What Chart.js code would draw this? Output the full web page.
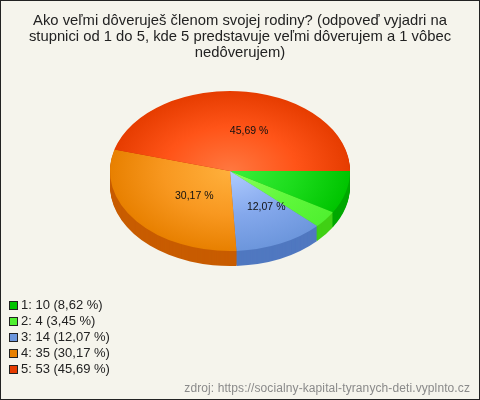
<!DOCTYPE html>
<html lang="sk">
<head>
<meta charset="utf-8">
<title>Dôvera členom rodiny</title>
<script src="https://cdn.jsdelivr.net/npm/chart.js@4"></script>
<style>
    body { margin: 0; background: #f5f4ec; font-family: "Liberation Sans", Arial, sans-serif; }
    #wrap { position: relative; width: 480px; height: 400px; overflow: hidden; }
    canvas { display: block; }
    #frame { position: absolute; inset: 0; border: 1px solid #222; pointer-events: none; }
    #legend { position: absolute; left: 8px; top: 297px; margin: 0; padding: 0; list-style: none; font-size: 13px; line-height: 16px; color: #222; }
    #legend li { height: 16px; white-space: nowrap; display: flex; align-items: center; }
    #legend i { display: inline-block; box-sizing: border-box; width: 9px; height: 9px; margin: 0 3px 0 1px; border: 1px solid #222; }
    #source { position: absolute; right: 10px; top: 381px; font-size: 12px; letter-spacing: 0.1px; color: #8a8a8a; white-space: nowrap; }
</style>
</head>
<body>
<div id="wrap">
    <canvas id="chart" width="480" height="400"></canvas>
    <ul id="legend"></ul>
    <div id="source"></div>
    <div id="frame"></div>
</div>
<script>
// Údaje z grafu
const titleLines = [
    'Ako veľmi dôveruješ členom svojej rodiny? (odpoveď vyjadri na',
    'stupnici od 1 do 5, kde 5 predstavuje veľmi dôverujem a 1 vôbec',
    'nedôverujem)'
];
const categories = ['1', '2', '3', '4', '5'];
const counts = [10, 4, 14, 35, 53];
const percents = ['8,62', '3,45', '12,07', '30,17', '45,69'];
const sourceText = 'zdroj: https://socialny-kapital-tyranych-deti.vyplnto.cz';

// Farby výsekov
const innerColors = ['#3cf03c', '#8cff5c', '#b0ccff', '#ffb03c', '#ff7840'];
const middleColors = ['#1cdc1c', '#60f83c', '#84a8ec', '#f89820', '#ff5418'];
const outerColors = ['#00c400', '#50f030', '#6c96dc', '#e88000', '#e63c00'];
const sideColors = ['#00a800', '#40d014', '#5078c0', '#c85c00', '#c03000'];

// Tvar elipsy
const centerX = 230;
const centerY = 171;
const squash = 80 / 120;
const depth = 15;

function sliceGradient(context) {
    const chart = context.chart;
    const area = chart.chartArea;
    if (!area) return outerColors[context.dataIndex];
    const x = (area.left + area.right) / 2;
    const y = (area.top + area.bottom) / 2;
    const g = chart.ctx.createRadialGradient(x, y, 0, x, y, 120);
    g.addColorStop(0, innerColors[context.dataIndex]);
    g.addColorStop(0.55, middleColors[context.dataIndex]);
    g.addColorStop(1, outerColors[context.dataIndex]);
    return g;
}

// Posun a sploštenie koláča
function tilt(ctx, arc, offset) {
    ctx.translate(centerX, centerY + offset);
    ctx.scale(1, squash);
    ctx.translate(-arc.x, -arc.y);
}

// Bočná stena a percentá
const tiltPlugin = {
    id: 'tilt',
    beforeDatasetsDraw(chart) {
        const ctx = chart.ctx;
        const arcs = chart.getDatasetMeta(0).data;
        for (let k = depth; k >= 1; k--) {
            arcs.forEach((arc, i) => {
                ctx.save();
                tilt(ctx, arc, k);
                ctx.fillStyle = sideColors[i];
                ctx.beginPath();
                ctx.moveTo(arc.x, arc.y);
                ctx.arc(arc.x, arc.y, arc.outerRadius, arc.startAngle, arc.endAngle);
                ctx.closePath();
                ctx.fill();
                ctx.restore();
            });
        }
        ctx.save();
        tilt(ctx, arcs[0], 0);
    },
    afterDatasetsDraw(chart) {
        const ctx = chart.ctx;
        ctx.restore();
        ctx.save();
        ctx.font = '10.5px "Liberation Sans", Arial, sans-serif';
        ctx.fillStyle = '#111';
        ctx.textAlign = 'center';
        ctx.textBaseline = 'middle';
        chart.getDatasetMeta(0).data.forEach((arc, i) => {
            if (parseFloat(percents[i]) < 10) return;
            const mid = (arc.startAngle + arc.endAngle) / 2;
            const x = centerX + Math.cos(mid) * arc.outerRadius * 0.5 + 11;
            const y = centerY + Math.sin(mid) * arc.outerRadius * squash * 0.5;
            ctx.fillText(percents[i] + ' %', x, y);
        });
        ctx.restore();
    }
};

new Chart(document.getElementById('chart').getContext('2d'), {
    type: 'pie',
    data: {
        labels: categories,
        datasets: [{
            data: counts,
            backgroundColor: sliceGradient,
            borderWidth: 0
        }]
    },
    options: {
        responsive: false,
        animation: false,
        rotation: 90,
        layout: { padding: { left: 0, right: 0, top: 0, bottom: 95 } },
        plugins: {
            legend: { display: false },
            tooltip: { enabled: false },
            title: {
                display: true,
                text: titleLines,
                color: '#222',
                font: { family: '"Liberation Sans", Arial, sans-serif', size: 14.8, weight: 'normal', lineHeight: 1.08 },
                padding: { top: 13, bottom: 4 }
            }
        }
    },
    plugins: [tiltPlugin]
});

// Legenda pod grafom
const legend = document.getElementById('legend');
categories.forEach((cat, i) => {
    const li = document.createElement('li');
    li.innerHTML = `<i style="background:${outerColors[i]}"></i>${cat}: ${counts[i]} (${percents[i]} %)`;
    legend.appendChild(li);
});
document.getElementById('source').textContent = sourceText;
</script>
</body>
</html>
